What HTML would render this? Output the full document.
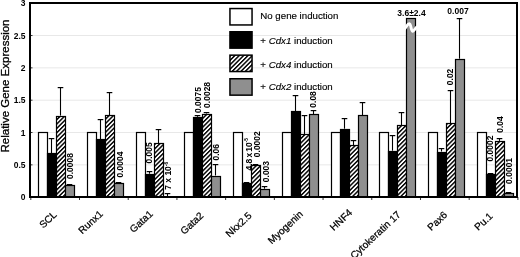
<!DOCTYPE html><html><head><meta charset="utf-8"><style>
html,body{margin:0;padding:0;background:#fff;width:520px;height:257px;overflow:hidden}
svg{display:block;will-change:transform}
text{font-family:"Liberation Sans", sans-serif}
</style></head><body>
<svg width="520" height="257" viewBox="0 0 520 257">
<defs><pattern id="h" patternUnits="userSpaceOnUse" width="3.1" height="3.1" patternTransform="rotate(45)"><rect width="3.1" height="3.1" fill="#fff"/><rect x="0" y="0" width="1.45" height="3.1" fill="#000"/></pattern></defs>
<line x1="31" x2="516" y1="164.86" y2="164.86" stroke="#e8e8e8" stroke-width="1"/>
<line x1="31" x2="516" y1="132.53" y2="132.53" stroke="#e8e8e8" stroke-width="1"/>
<line x1="31" x2="516" y1="100.19" y2="100.19" stroke="#e8e8e8" stroke-width="1"/>
<line x1="31" x2="516" y1="67.86" y2="67.86" stroke="#e8e8e8" stroke-width="1"/>
<line x1="31" x2="516" y1="35.52" y2="35.52" stroke="#e8e8e8" stroke-width="1"/>
<text x="25.6" y="200.40" font-size="8.5" font-weight="bold" text-anchor="end">0</text>
<line x1="30" x2="32.5" y1="197.20" y2="197.20" stroke="#000" stroke-width="0.8"/>
<text x="25.6" y="168.06" font-size="8.5" font-weight="bold" text-anchor="end">0.5</text>
<line x1="30" x2="32.5" y1="164.86" y2="164.86" stroke="#000" stroke-width="0.8"/>
<text x="25.6" y="135.73" font-size="8.5" font-weight="bold" text-anchor="end">1</text>
<line x1="30" x2="32.5" y1="132.53" y2="132.53" stroke="#000" stroke-width="0.8"/>
<text x="25.6" y="103.39" font-size="8.5" font-weight="bold" text-anchor="end">1.5</text>
<line x1="30" x2="32.5" y1="100.19" y2="100.19" stroke="#000" stroke-width="0.8"/>
<text x="25.6" y="71.06" font-size="8.5" font-weight="bold" text-anchor="end">2</text>
<line x1="30" x2="32.5" y1="67.86" y2="67.86" stroke="#000" stroke-width="0.8"/>
<text x="25.6" y="38.72" font-size="8.5" font-weight="bold" text-anchor="end">2.5</text>
<line x1="30" x2="32.5" y1="35.52" y2="35.52" stroke="#000" stroke-width="0.8"/>
<text x="25.6" y="6.39" font-size="8.5" font-weight="bold" text-anchor="end">3</text>
<line x1="30" x2="32.5" y1="3.19" y2="3.19" stroke="#000" stroke-width="0.8"/>
<text transform="translate(9.4,86.0) rotate(-90)" font-size="11.5" text-anchor="middle" stroke="#000" stroke-width="0.3">Relative Gene Expression</text>
<rect x="38.50" y="132.50" width="9.00" height="64.50" fill="#fff" stroke="#000" stroke-width="1.20"/>
<line x1="51.50" x2="51.50" y1="138.00" y2="153.30" stroke="#000" stroke-width="1.1"/>
<line x1="48.70" x2="54.30" y1="138.60" y2="138.60" stroke="#000" stroke-width="1.2"/>
<line x1="60.50" x2="60.50" y1="87.00" y2="115.60" stroke="#000" stroke-width="1.1"/>
<line x1="57.70" x2="63.30" y1="87.60" y2="87.60" stroke="#000" stroke-width="1.2"/>
<line x1="69.50" x2="69.50" y1="184.00" y2="185.10" stroke="#000" stroke-width="1.1"/>
<line x1="66.70" x2="72.30" y1="184.60" y2="184.60" stroke="#000" stroke-width="1.2"/>
<rect x="47.50" y="153.50" width="9.00" height="43.50" fill="#000" stroke="#000" stroke-width="1.20"/>
<rect x="56.50" y="116.50" width="9.00" height="80.50" fill="url(#h)" stroke="#000" stroke-width="1.20"/>
<rect x="65.50" y="185.50" width="9.00" height="11.50" fill="#8f8f8f" stroke="#000" stroke-width="1.20"/>
<rect x="87.50" y="132.50" width="9.00" height="64.50" fill="#fff" stroke="#000" stroke-width="1.20"/>
<line x1="100.50" x2="100.50" y1="119.00" y2="139.40" stroke="#000" stroke-width="1.1"/>
<line x1="97.70" x2="103.30" y1="119.60" y2="119.60" stroke="#000" stroke-width="1.2"/>
<line x1="109.50" x2="109.50" y1="92.00" y2="115.10" stroke="#000" stroke-width="1.1"/>
<line x1="106.70" x2="112.30" y1="92.60" y2="92.60" stroke="#000" stroke-width="1.2"/>
<line x1="118.50" x2="118.50" y1="182.00" y2="182.60" stroke="#000" stroke-width="1.1"/>
<line x1="115.70" x2="121.30" y1="182.60" y2="182.60" stroke="#000" stroke-width="1.2"/>
<rect x="96.50" y="139.50" width="9.00" height="57.50" fill="#000" stroke="#000" stroke-width="1.20"/>
<rect x="105.50" y="115.50" width="9.00" height="81.50" fill="url(#h)" stroke="#000" stroke-width="1.20"/>
<rect x="114.50" y="183.50" width="9.00" height="13.50" fill="#8f8f8f" stroke="#000" stroke-width="1.20"/>
<rect x="136.50" y="132.50" width="9.00" height="64.50" fill="#fff" stroke="#000" stroke-width="1.20"/>
<line x1="149.50" x2="149.50" y1="171.00" y2="173.70" stroke="#000" stroke-width="1.1"/>
<line x1="146.70" x2="152.30" y1="171.60" y2="171.60" stroke="#000" stroke-width="1.2"/>
<line x1="158.50" x2="158.50" y1="129.00" y2="143.20" stroke="#000" stroke-width="1.1"/>
<line x1="155.70" x2="161.30" y1="129.60" y2="129.60" stroke="#000" stroke-width="1.2"/>
<line x1="167.50" x2="167.50" y1="193.00" y2="196.60" stroke="#000" stroke-width="1.1"/>
<line x1="164.70" x2="170.30" y1="193.60" y2="193.60" stroke="#000" stroke-width="1.2"/>
<rect x="145.50" y="174.50" width="9.00" height="22.50" fill="#000" stroke="#000" stroke-width="1.20"/>
<rect x="154.50" y="143.50" width="9.00" height="53.50" fill="url(#h)" stroke="#000" stroke-width="1.20"/>
<rect x="163.50" y="197.50" width="9.00" height="-0.50" fill="#8f8f8f" stroke="#000" stroke-width="1.20"/>
<rect x="184.50" y="132.50" width="9.00" height="64.50" fill="#fff" stroke="#000" stroke-width="1.20"/>
<line x1="197.50" x2="197.50" y1="115.00" y2="116.80" stroke="#000" stroke-width="1.1"/>
<line x1="194.70" x2="200.30" y1="115.60" y2="115.60" stroke="#000" stroke-width="1.2"/>
<line x1="206.50" x2="206.50" y1="112.00" y2="113.50" stroke="#000" stroke-width="1.1"/>
<line x1="203.70" x2="209.30" y1="112.60" y2="112.60" stroke="#000" stroke-width="1.2"/>
<line x1="215.50" x2="215.50" y1="164.00" y2="175.50" stroke="#000" stroke-width="1.1"/>
<line x1="212.70" x2="218.30" y1="164.60" y2="164.60" stroke="#000" stroke-width="1.2"/>
<rect x="193.50" y="117.50" width="9.00" height="79.50" fill="#000" stroke="#000" stroke-width="1.20"/>
<rect x="202.50" y="114.50" width="9.00" height="82.50" fill="url(#h)" stroke="#000" stroke-width="1.20"/>
<rect x="211.50" y="176.50" width="9.00" height="20.50" fill="#8f8f8f" stroke="#000" stroke-width="1.20"/>
<rect x="233.50" y="132.50" width="9.00" height="64.50" fill="#fff" stroke="#000" stroke-width="1.20"/>
<line x1="246.50" x2="246.50" y1="182.00" y2="183.10" stroke="#000" stroke-width="1.1"/>
<line x1="243.70" x2="249.30" y1="182.60" y2="182.60" stroke="#000" stroke-width="1.2"/>
<line x1="255.50" x2="255.50" y1="164.00" y2="164.90" stroke="#000" stroke-width="1.1"/>
<line x1="252.70" x2="258.30" y1="164.60" y2="164.60" stroke="#000" stroke-width="1.2"/>
<line x1="264.50" x2="264.50" y1="186.00" y2="188.70" stroke="#000" stroke-width="1.1"/>
<line x1="261.70" x2="267.30" y1="186.60" y2="186.60" stroke="#000" stroke-width="1.2"/>
<rect x="242.50" y="183.50" width="9.00" height="13.50" fill="#000" stroke="#000" stroke-width="1.20"/>
<rect x="251.50" y="165.50" width="9.00" height="31.50" fill="url(#h)" stroke="#000" stroke-width="1.20"/>
<rect x="260.50" y="189.50" width="9.00" height="7.50" fill="#8f8f8f" stroke="#000" stroke-width="1.20"/>
<rect x="282.50" y="132.50" width="9.00" height="64.50" fill="#fff" stroke="#000" stroke-width="1.20"/>
<line x1="295.50" x2="295.50" y1="95.00" y2="111.00" stroke="#000" stroke-width="1.1"/>
<line x1="292.70" x2="298.30" y1="95.60" y2="95.60" stroke="#000" stroke-width="1.2"/>
<line x1="304.50" x2="304.50" y1="115.00" y2="134.40" stroke="#000" stroke-width="1.1"/>
<line x1="301.70" x2="307.30" y1="115.60" y2="115.60" stroke="#000" stroke-width="1.2"/>
<line x1="313.50" x2="313.50" y1="110.00" y2="114.30" stroke="#000" stroke-width="1.1"/>
<line x1="310.70" x2="316.30" y1="110.60" y2="110.60" stroke="#000" stroke-width="1.2"/>
<rect x="291.50" y="111.50" width="9.00" height="85.50" fill="#000" stroke="#000" stroke-width="1.20"/>
<rect x="300.50" y="134.50" width="9.00" height="62.50" fill="url(#h)" stroke="#000" stroke-width="1.20"/>
<rect x="309.50" y="114.50" width="9.00" height="82.50" fill="#8f8f8f" stroke="#000" stroke-width="1.20"/>
<rect x="331.50" y="132.50" width="9.00" height="64.50" fill="#fff" stroke="#000" stroke-width="1.20"/>
<line x1="344.50" x2="344.50" y1="118.00" y2="128.70" stroke="#000" stroke-width="1.1"/>
<line x1="341.70" x2="347.30" y1="118.60" y2="118.60" stroke="#000" stroke-width="1.2"/>
<line x1="353.50" x2="353.50" y1="140.00" y2="145.20" stroke="#000" stroke-width="1.1"/>
<line x1="350.70" x2="356.30" y1="140.60" y2="140.60" stroke="#000" stroke-width="1.2"/>
<line x1="362.50" x2="362.50" y1="102.00" y2="115.00" stroke="#000" stroke-width="1.1"/>
<line x1="359.70" x2="365.30" y1="102.60" y2="102.60" stroke="#000" stroke-width="1.2"/>
<rect x="340.50" y="129.50" width="9.00" height="67.50" fill="#000" stroke="#000" stroke-width="1.20"/>
<rect x="349.50" y="145.50" width="9.00" height="51.50" fill="url(#h)" stroke="#000" stroke-width="1.20"/>
<rect x="358.50" y="115.50" width="9.00" height="81.50" fill="#8f8f8f" stroke="#000" stroke-width="1.20"/>
<rect x="379.50" y="132.50" width="9.00" height="64.50" fill="#fff" stroke="#000" stroke-width="1.20"/>
<line x1="392.50" x2="392.50" y1="135.00" y2="150.70" stroke="#000" stroke-width="1.1"/>
<line x1="389.70" x2="395.30" y1="135.60" y2="135.60" stroke="#000" stroke-width="1.2"/>
<line x1="401.50" x2="401.50" y1="112.00" y2="125.20" stroke="#000" stroke-width="1.1"/>
<line x1="398.70" x2="404.30" y1="112.60" y2="112.60" stroke="#000" stroke-width="1.2"/>
<rect x="388.50" y="151.50" width="9.00" height="45.50" fill="#000" stroke="#000" stroke-width="1.20"/>
<rect x="397.50" y="125.50" width="9.00" height="71.50" fill="url(#h)" stroke="#000" stroke-width="1.20"/>
<rect x="406.50" y="18.50" width="9.00" height="178.50" fill="#8f8f8f" stroke="#000" stroke-width="1.20"/>
<rect x="428.50" y="132.50" width="9.00" height="64.50" fill="#fff" stroke="#000" stroke-width="1.20"/>
<line x1="441.50" x2="441.50" y1="148.00" y2="151.50" stroke="#000" stroke-width="1.1"/>
<line x1="438.70" x2="444.30" y1="148.60" y2="148.60" stroke="#000" stroke-width="1.2"/>
<line x1="450.50" x2="450.50" y1="90.00" y2="123.20" stroke="#000" stroke-width="1.1"/>
<line x1="447.70" x2="453.30" y1="90.60" y2="90.60" stroke="#000" stroke-width="1.2"/>
<line x1="459.50" x2="459.50" y1="18.00" y2="58.70" stroke="#000" stroke-width="1.1"/>
<line x1="456.70" x2="462.30" y1="18.60" y2="18.60" stroke="#000" stroke-width="1.2"/>
<rect x="437.50" y="152.50" width="9.00" height="44.50" fill="#000" stroke="#000" stroke-width="1.20"/>
<rect x="446.50" y="123.50" width="9.00" height="73.50" fill="url(#h)" stroke="#000" stroke-width="1.20"/>
<rect x="455.50" y="59.50" width="9.00" height="137.50" fill="#8f8f8f" stroke="#000" stroke-width="1.20"/>
<rect x="477.50" y="132.50" width="9.00" height="64.50" fill="#fff" stroke="#000" stroke-width="1.20"/>
<line x1="490.50" x2="490.50" y1="173.00" y2="174.00" stroke="#000" stroke-width="1.1"/>
<line x1="487.70" x2="493.30" y1="173.60" y2="173.60" stroke="#000" stroke-width="1.2"/>
<line x1="499.50" x2="499.50" y1="138.00" y2="140.90" stroke="#000" stroke-width="1.1"/>
<line x1="496.70" x2="502.30" y1="138.60" y2="138.60" stroke="#000" stroke-width="1.2"/>
<line x1="508.50" x2="508.50" y1="192.00" y2="192.60" stroke="#000" stroke-width="1.1"/>
<line x1="505.70" x2="511.30" y1="192.60" y2="192.60" stroke="#000" stroke-width="1.2"/>
<rect x="486.50" y="174.50" width="9.00" height="22.50" fill="#000" stroke="#000" stroke-width="1.20"/>
<rect x="495.50" y="141.50" width="9.00" height="55.50" fill="url(#h)" stroke="#000" stroke-width="1.20"/>
<rect x="504.50" y="193.50" width="9.00" height="3.50" fill="#8f8f8f" stroke="#000" stroke-width="1.20"/>
<rect x="30" y="3" width="487" height="194" fill="none" stroke="#000" stroke-width="2"/>
<line x1="30.80" x2="30.80" y1="197" y2="200" stroke="#000" stroke-width="0.8"/>
<line x1="79.51" x2="79.51" y1="197" y2="200" stroke="#000" stroke-width="0.8"/>
<line x1="128.22" x2="128.22" y1="197" y2="200" stroke="#000" stroke-width="0.8"/>
<line x1="176.93" x2="176.93" y1="197" y2="200" stroke="#000" stroke-width="0.8"/>
<line x1="225.64" x2="225.64" y1="197" y2="200" stroke="#000" stroke-width="0.8"/>
<line x1="274.35" x2="274.35" y1="197" y2="200" stroke="#000" stroke-width="0.8"/>
<line x1="323.06" x2="323.06" y1="197" y2="200" stroke="#000" stroke-width="0.8"/>
<line x1="371.77" x2="371.77" y1="197" y2="200" stroke="#000" stroke-width="0.8"/>
<line x1="420.48" x2="420.48" y1="197" y2="200" stroke="#000" stroke-width="0.8"/>
<line x1="469.19" x2="469.19" y1="197" y2="200" stroke="#000" stroke-width="0.8"/>
<line x1="517.90" x2="517.90" y1="197" y2="200" stroke="#000" stroke-width="0.8"/>
<path d="M404.3,29.3 C406.3,27.5 407.4,23.6 409.3,23.8 C411.2,24 411,31.6 412.8,31.3 C414.4,31 415,28.2 417.2,26.6" fill="none" stroke="#fff" stroke-width="2.9"/>
<text x="411.5" y="15.6" font-size="8.5" font-weight="bold" text-anchor="middle">3.6&#177;2.4</text>
<text x="458" y="13.9" font-size="8.5" font-weight="bold" text-anchor="middle">0.007</text>
<text transform="translate(73.05,179.00) rotate(-90)" font-size="8.5" font-weight="bold">0.0008</text>
<text transform="translate(123.45,177.50) rotate(-90)" font-size="8.5" font-weight="bold">0.0004</text>
<text transform="translate(152.05,163.50) rotate(-90)" font-size="8.5" font-weight="bold">0.005</text>
<text transform="translate(171.15,189.80) rotate(-90)" font-size="8.5" font-weight="bold" word-spacing="0">7 x 10<tspan dy="-3.2" font-size="4.8">-6</tspan></text>
<text transform="translate(201.25,113.00) rotate(-90)" font-size="8.5" font-weight="bold">0.0075</text>
<text transform="translate(209.85,107.90) rotate(-90)" font-size="8.5" font-weight="bold">0.0028</text>
<text transform="translate(219.05,160.50) rotate(-90)" font-size="8.5" font-weight="bold">0.06</text>
<text transform="translate(251.55,170.50) rotate(-90)" font-size="8.5" font-weight="bold" word-spacing="-1.3">4.8 x 10<tspan dy="-3.2" font-size="4.8">-5</tspan></text>
<text transform="translate(259.65,157.20) rotate(-90)" font-size="8.5" font-weight="bold">0.0002</text>
<text transform="translate(269.35,182.20) rotate(-90)" font-size="8.5" font-weight="bold">0.003</text>
<text transform="translate(316.05,107.70) rotate(-90)" font-size="8.5" font-weight="bold">0.08</text>
<text transform="translate(453.15,85.20) rotate(-90)" font-size="8.5" font-weight="bold">0.02</text>
<text transform="translate(493.45,161.60) rotate(-90)" font-size="8.5" font-weight="bold">0.0002</text>
<text transform="translate(503.35,132.80) rotate(-90)" font-size="8.5" font-weight="bold">0.04</text>
<text transform="translate(511.85,183.90) rotate(-90)" font-size="8.5" font-weight="bold">0.0001</text>
<text transform="translate(57.36,215.50) rotate(-43.0)" font-size="10.0" font-style="normal" text-anchor="end" stroke="#000" stroke-width="0.25">SCL</text>
<text transform="translate(103.46,214.70) rotate(-43.0)" font-size="10.0" font-style="normal" text-anchor="end" stroke="#000" stroke-width="0.25">Runx1</text>
<text transform="translate(153.48,214.70) rotate(-43.0)" font-size="10.0" font-style="normal" text-anchor="end" stroke="#000" stroke-width="0.25">Gata1</text>
<text transform="translate(204.19,216.50) rotate(-43.0)" font-size="10.0" font-style="normal" text-anchor="end" stroke="#000" stroke-width="0.25">Gata2</text>
<text transform="translate(252.30,216.50) rotate(-43.0)" font-size="10.0" font-style="normal" text-anchor="end" stroke="#000" stroke-width="0.25">Nkx2.5</text>
<text transform="translate(303.51,215.00) rotate(-43.0)" font-size="10.0" font-style="normal" text-anchor="end" stroke="#000" stroke-width="0.25">Myogenin</text>
<text transform="translate(352.92,213.50) rotate(-43.0)" font-size="10.0" font-style="normal" text-anchor="end" stroke="#000" stroke-width="0.25">HNF4</text>
<text transform="translate(401.32,215.50) rotate(-43.0)" font-size="10.0" font-style="normal" text-anchor="end" stroke="#000" stroke-width="0.25">Cytokeratin 17</text>
<text transform="translate(447.94,215.70) rotate(-43.0)" font-size="10.0" font-style="normal" text-anchor="end" stroke="#000" stroke-width="0.25">Pax6</text>
<text transform="translate(493.35,217.00) rotate(-43.0)" font-size="10.0" font-style="normal" text-anchor="end" stroke="#000" stroke-width="0.25">Pu.1</text>
<rect x="229.95" y="8.55" width="22.10" height="16.40" fill="#fff" stroke="#000" stroke-width="1.5"/>
<text x="260.3" y="18.90" font-size="9.7" stroke="#000" stroke-width="0.15">No gene induction</text>
<rect x="229.95" y="31.75" width="22.10" height="16.40" fill="#000" stroke="#000" stroke-width="1.5"/>
<text x="260.3" y="44.20" font-size="9.7" stroke="#000" stroke-width="0.15">+ <tspan font-style="italic">Cdx1</tspan> induction</text>
<rect x="229.95" y="55.15" width="22.10" height="16.40" fill="url(#h)" stroke="#000" stroke-width="1.5"/>
<text x="260.3" y="67.70" font-size="9.7" stroke="#000" stroke-width="0.15">+ <tspan font-style="italic">Cdx4</tspan> induction</text>
<rect x="229.95" y="78.75" width="22.10" height="16.40" fill="#8f8f8f" stroke="#000" stroke-width="1.5"/>
<text x="260.3" y="90.20" font-size="9.7" stroke="#000" stroke-width="0.15">+ <tspan font-style="italic">Cdx2</tspan> induction</text>
</svg></body></html>
